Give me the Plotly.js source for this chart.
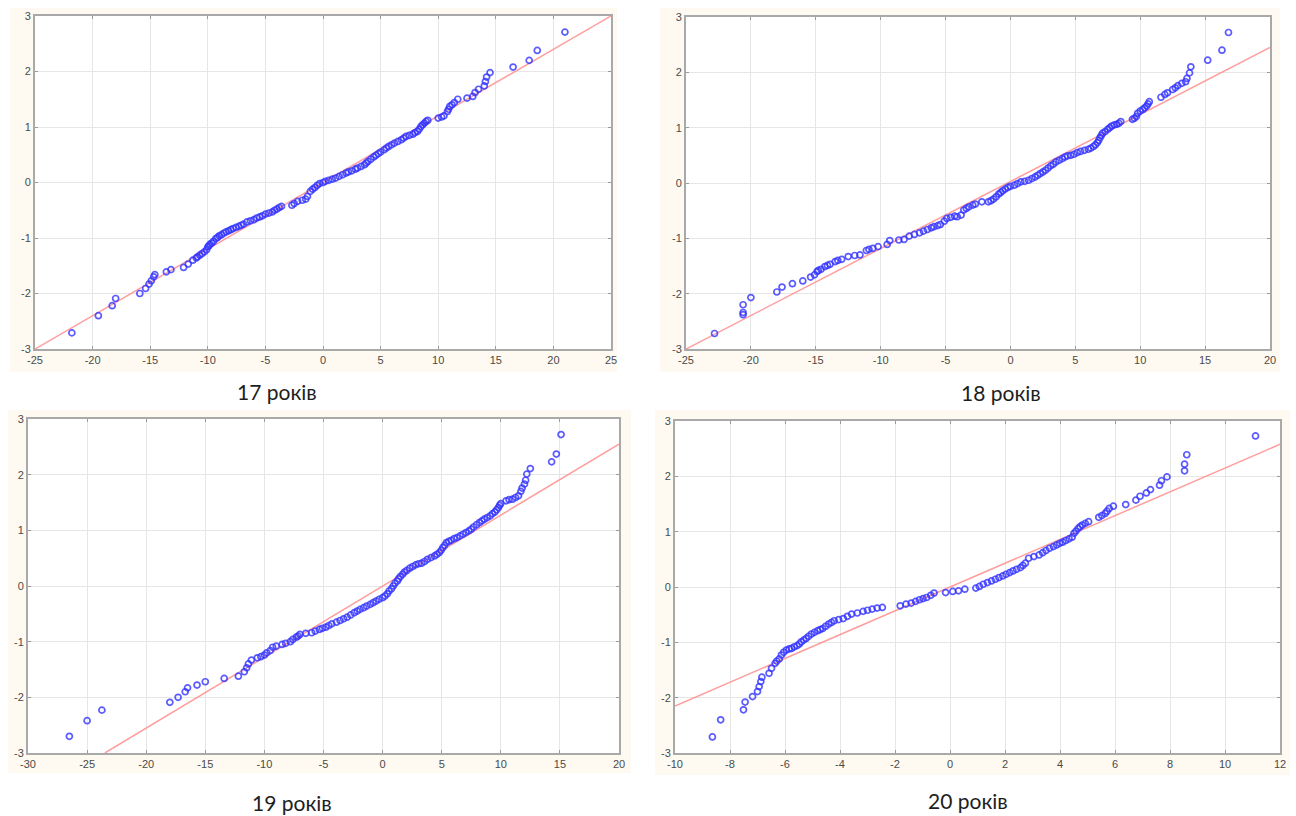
<!DOCTYPE html>
<html>
<head>
<meta charset="utf-8">
<script src="https://cdn.plot.ly/plotly-3.0.1.min.js"></script>
<style>html,body{margin:0;padding:0;background:#fff;}#chart{width:1296px;height:816px;}</style>
</head>
<body>
<div id="chart"></div>
<script>
// ---------- DATA ----------
const captions = ["17 років", "18 років", "19 років", "20 років"];

// 17 years (observed value, expected normal value)
const x17 = [-21.8,-19.5,-18.3,-18.0,-15.9,-15.4,-15.1,-14.9,-14.7,-14.6,-13.6,-13.2,-12.1,-11.7,-11.3,-10.9,-10.5,-10.1,-10.0,-9.8,-9.5,-9.3,-9.0,-8.6,-8.2,-7.8,-7.3,-6.9,-6.6,-6.0,-5.5,-5.0,-4.4,-4.0,-3.6,-2.7,-2.2,-1.5,-1.35,-1.1,-0.7,-0.3,0.2,0.8,1.4,2.0,2.5,3.0,3.6,3.9,4.4,4.8,5.3,5.7,6.2,6.8,7.2,7.8,8.2,8.5,8.8,9.1,10.0,10.5,10.8,11.0,11.4,11.7,12.5,13.0,13.2,13.5,14.0,14.1,14.2,14.5,16.5,17.9,18.6,21.0,
  -11.0,-10.7,-10.3,-9.9,-9.65,-9.15,-8.8,-8.4,-8.0,-7.55,-7.1,-6.3,-5.75,-5.25,-4.7,-4.2,-3.8,-2.5,-1.8,-0.9,-0.5,0.0,0.5,1.1,1.7,2.2,2.8,3.3,3.75,4.15,4.6,5.0,5.5,5.95,6.5,7.0,7.5,8.0,8.35,8.65,8.95,10.3,10.9,11.2];
const y17 = [-2.71,-2.40,-2.22,-2.09,-2.00,-1.91,-1.83,-1.77,-1.70,-1.66,-1.61,-1.57,-1.53,-1.47,-1.40,-1.34,-1.28,-1.21,-1.16,-1.11,-1.06,-1.01,-0.96,-0.91,-0.87,-0.83,-0.79,-0.75,-0.71,-0.67,-0.62,-0.57,-0.53,-0.48,-0.43,-0.41,-0.34,-0.30,-0.25,-0.16,-0.09,-0.02,0.02,0.06,0.11,0.17,0.21,0.26,0.32,0.38,0.46,0.52,0.59,0.65,0.71,0.77,0.83,0.87,0.92,1.01,1.07,1.12,1.16,1.20,1.28,1.37,1.44,1.50,1.52,1.55,1.62,1.68,1.74,1.82,1.90,1.98,2.08,2.20,2.38,2.71,
  -1.36,-1.31,-1.25,-1.14,-1.09,-0.99,-0.94,-0.89,-0.85,-0.81,-0.77,-0.69,-0.64,-0.60,-0.55,-0.50,-0.45,-0.38,-0.32,-0.12,-0.05,0.00,0.04,0.08,0.14,0.19,0.24,0.29,0.35,0.42,0.49,0.55,0.62,0.68,0.74,0.80,0.85,0.90,0.96,1.04,1.10,1.18,1.32,1.40];
const line17x = [-25, 25];
const line17y = [-3, 3];

// 18 years
const x18 = [-22.8,-20.6,-20.6,-20.6,-20.0,-18.0,-17.6,-16.8,-16.0,-15.4,-15.1,-14.9,-14.6,-14.3,-13.9,-13.5,-13.0,-12.5,-11.6,-11.1,-10.6,-10.2,-9.5,-9.3,-8.2,-7.8,-7.0,-6.4,-5.9,-5.4,-5.1,-4.9,-4.1,-3.8,-3.6,-3.2,-2.7,-2.2,-1.7,-1.3,-0.9,-0.6,-0.2,0.3,0.8,1.4,1.9,2.3,2.7,3.1,3.5,4.0,4.4,4.9,5.4,6.0,6.4,6.7,6.9,7.1,7.5,7.8,8.2,8.5,9.4,9.7,9.8,10.2,10.5,10.7,11.6,12.1,12.5,12.9,13.5,13.6,13.8,13.9,15.2,16.3,16.8,
  -4.6,-4.3,-3.4,-2.9,-1.5,-1.1,-0.75,-0.4,0.0,0.55,1.1,1.65,2.1,2.5,2.9,3.3,3.75,4.2,4.65,5.15,5.7,6.2,6.55,6.8,7.0,7.3,7.65,8.0,8.35,9.55,10.0,10.35,10.6,11.9,12.7,13.2,-5.6,-6.1,-6.7,-7.4,-8.6,-10.9,-12.0,-13.3,-14.1,-14.8];
const y18 = [-2.72,-2.38,-2.34,-2.20,-2.07,-1.97,-1.88,-1.82,-1.77,-1.70,-1.66,-1.60,-1.56,-1.51,-1.47,-1.42,-1.38,-1.33,-1.30,-1.22,-1.18,-1.15,-1.11,-1.04,-1.02,-0.96,-0.90,-0.84,-0.79,-0.75,-0.69,-0.64,-0.61,-0.58,-0.49,-0.43,-0.38,-0.34,-0.34,-0.29,-0.20,-0.14,-0.08,-0.04,0.02,0.05,0.11,0.17,0.23,0.31,0.38,0.44,0.49,0.52,0.57,0.61,0.66,0.73,0.82,0.90,0.97,1.03,1.06,1.11,1.15,1.20,1.26,1.33,1.39,1.47,1.55,1.63,1.69,1.76,1.83,1.89,1.99,2.10,2.22,2.40,2.72,
  -0.62,-0.60,-0.46,-0.40,-0.32,-0.25,-0.17,-0.11,-0.06,-0.01,0.03,0.08,0.14,0.20,0.27,0.34,0.41,0.47,0.50,0.55,0.59,0.63,0.69,0.77,0.86,0.93,1.00,1.05,1.08,1.17,1.30,1.36,1.43,1.60,1.72,1.80,-0.77,-0.81,-0.87,-0.93,-1.03,-1.20,-1.31,-1.40,-1.49,-1.58];
const line18x = [-25, 20];
const line18y = [-3, 2.45];

// 19 years
const x19 = [-26.5,-25.0,-23.75,-18.0,-17.3,-16.7,-16.5,-15.7,-15.0,-13.4,-12.2,-11.7,-11.5,-11.35,-11.1,-10.6,-10.0,-9.5,-9.3,-8.5,-7.8,-7.3,-7.0,-6.0,-5.35,-4.8,-4.3,-3.6,-3.0,-2.4,-1.9,-1.35,-0.8,-0.3,0.2,0.55,0.9,1.25,1.5,1.85,2.3,2.8,3.3,3.8,4.4,4.8,5.1,5.4,5.8,6.3,6.8,7.3,7.7,8.2,8.6,9.1,9.5,9.8,10.0,10.45,11.0,11.5,11.7,11.8,12.0,12.1,12.2,12.5,14.3,14.7,15.1,
  -10.3,-9.8,-9.0,-8.2,-7.6,-7.15,-6.5,-5.7,-5.1,-4.55,-3.9,-3.3,-2.7,-2.15,-1.6,-1.05,-0.55,0.0,0.4,0.75,1.05,1.35,1.7,2.05,2.55,3.05,3.55,4.1,4.6,4.95,5.25,5.6,6.05,6.55,7.05,7.5,7.95,8.4,8.85,9.3,9.65,9.9,10.7,11.25];
const y19 = [-2.70,-2.42,-2.23,-2.09,-2.00,-1.90,-1.83,-1.78,-1.72,-1.66,-1.62,-1.54,-1.47,-1.40,-1.33,-1.29,-1.24,-1.16,-1.10,-1.05,-1.00,-0.92,-0.87,-0.84,-0.78,-0.74,-0.68,-0.62,-0.56,-0.48,-0.42,-0.36,-0.30,-0.24,-0.18,-0.09,0.00,0.09,0.17,0.25,0.32,0.38,0.41,0.48,0.54,0.60,0.69,0.78,0.82,0.87,0.93,0.99,1.06,1.14,1.20,1.26,1.33,1.41,1.48,1.53,1.56,1.62,1.70,1.76,1.83,1.90,2.01,2.11,2.23,2.37,2.72,
  -1.27,-1.20,-1.08,-1.03,-0.96,-0.90,-0.85,-0.81,-0.76,-0.71,-0.65,-0.59,-0.52,-0.45,-0.39,-0.33,-0.27,-0.21,-0.14,-0.05,0.05,0.13,0.21,0.28,0.35,0.40,0.44,0.51,0.57,0.64,0.73,0.80,0.85,0.90,0.96,1.02,1.10,1.17,1.23,1.30,1.37,1.45,1.55,1.59];
const line19x = [-23.5, 20];
const line19y = [-3, 2.55];

// 20 years
const x20 = [-8.64,-8.34,-7.51,-7.45,-7.18,-7.0,-6.94,-6.88,-6.84,-6.58,-6.49,-6.36,-6.21,-6.13,-5.95,-5.76,-5.56,-5.41,-5.23,-5.04,-4.81,-4.63,-4.41,-4.21,-3.88,-3.58,-3.16,-2.83,-2.46,-1.81,-1.41,-1.11,-0.85,-0.58,-0.16,0.31,0.54,0.94,1.21,1.51,1.78,2.04,2.29,2.56,2.74,2.86,3.24,3.49,3.76,3.99,4.21,4.44,4.51,4.66,4.81,5.04,5.41,5.64,5.79,5.94,6.39,6.76,6.91,7.14,7.29,7.62,7.69,7.89,8.53,8.53,8.61,11.11,
  -6.3,-6.05,-5.85,-5.66,-5.48,-5.32,-5.14,-4.93,-4.72,-4.52,-4.31,-4.05,-3.73,-3.37,-3.0,-2.65,-1.6,-1.25,-0.98,-0.7,0.1,1.07,1.36,1.65,1.92,2.17,2.42,2.65,3.05,3.37,3.62,3.88,4.1,4.33,4.58,4.73,4.92,5.52,5.71];
const y20 = [-2.71,-2.40,-2.22,-2.08,-1.98,-1.89,-1.80,-1.71,-1.63,-1.56,-1.47,-1.38,-1.30,-1.23,-1.14,-1.11,-1.06,-0.99,-0.93,-0.85,-0.79,-0.75,-0.67,-0.61,-0.57,-0.49,-0.44,-0.40,-0.37,-0.34,-0.29,-0.23,-0.19,-0.11,-0.10,-0.07,-0.04,-0.02,0.05,0.11,0.17,0.23,0.29,0.35,0.43,0.52,0.58,0.66,0.73,0.79,0.84,0.90,0.97,1.06,1.12,1.18,1.26,1.33,1.42,1.46,1.49,1.57,1.64,1.70,1.76,1.84,1.92,1.99,2.10,2.22,2.39,2.73,
  -1.34,-1.18,-1.12,-1.08,-1.03,-0.96,-0.89,-0.82,-0.77,-0.71,-0.64,-0.59,-0.53,-0.47,-0.42,-0.38,-0.31,-0.26,-0.21,-0.15,-0.08,0.01,0.08,0.14,0.20,0.26,0.32,0.39,0.55,0.62,0.70,0.76,0.81,0.87,1.01,1.09,1.15,1.29,1.37];
const line20x = [-10, 12];
const line20y = [-2.15, 2.58];

// tick values
const xTicks17 = [-25,-20,-15,-10,-5,0,5,10,15,20,25];
const xTicks18 = [-25,-20,-15,-10,-5,0,5,10,15,20];
const xTicks19 = [-30,-25,-20,-15,-10,-5,0,5,10,15,20];
const xTicks20 = [-10,-8,-6,-4,-2,0,2,4,6,8,10,12];
const yTicks = [-3,-2,-1,0,1,2,3];

// ---------- LAYOUT HELPERS ----------
const W = 1296, H = 816;
const panels = [
  {px:[35,611],  py:[16,349],  cream:[10,617,8,372],    cap:[277,391], xr:[-25,25], xt:xTicks17},
  {px:[686,1270],py:[17,349],  cream:[660,1280,8,372],  cap:[1001,392], xr:[-25,20], xt:xTicks18},
  {px:[28,619],  py:[419,753], cream:[8,631,410,773],   cap:[292,802], xr:[-30,20], xt:xTicks19},
  {px:[675,1280],py:[421,753], cream:[655,1290,410,775],cap:[968,800], xr:[-10,12], xt:xTicks20}
];
const series = [
  {x:x17,y:y17,lx:line17x,ly:line17y},
  {x:x18,y:y18,lx:line18x,ly:line18y},
  {x:x19,y:y19,lx:line19x,ly:line19y},
  {x:x20,y:y20,lx:line20x,ly:line20y}
];

const tickFont = {family:"Liberation Sans, Arial, sans-serif", size:11, color:"#4a4a4a"};
function axisCommon(){
  return {
    showgrid:true, gridcolor:"#e6e6e6", gridwidth:1,
    zeroline:false, showline:true, linecolor:"#a9a9a9", linewidth:2, mirror:"ticks",
    ticks:"inside", ticklen:3, tickcolor:"#9a9a9a", tickwidth:1,
    tickfont:tickFont, fixedrange:true, tickmode:"array"
  };
}

const data = [];
const layout = {
  width:W, height:H, margin:{l:0,r:0,t:0,b:0},
  paper_bgcolor:"#ffffff", plot_bgcolor:"#ffffff",
  showlegend:false, shapes:[], annotations:[]
};

panels.forEach((p,i)=>{
  const n = i===0 ? "" : String(i+1);
  const s = series[i];
  data.push({
    x:s.lx, y:s.ly, mode:"lines", type:"scatter",
    xaxis:"x"+n, yaxis:"y"+n,
    line:{color:"rgba(255,140,140,0.85)", width:1.5}, hoverinfo:"skip"
  });
  data.push({
    x:s.x, y:s.y, mode:"markers", type:"scatter",
    xaxis:"x"+n, yaxis:"y"+n,
    marker:{symbol:"circle-open", size:6, color:"rgba(50,50,255,0.8)", line:{width:1.7, color:"rgba(50,50,255,0.8)"}}
  });
  const xa = axisCommon();
  Object.assign(xa, {
    domain:[p.px[0]/W, p.px[1]/W], range:p.xr, anchor:"y"+n,
    tickvals:p.xt, ticktext:p.xt.map(v=>String(v))
  });
  const ya = axisCommon();
  Object.assign(ya, {
    domain:[1-p.py[1]/H, 1-p.py[0]/H], range:[-3,3], anchor:"x"+n,
    tickvals:yTicks, ticktext:yTicks.map(v=>String(v))
  });
  layout["xaxis"+n] = xa;
  layout["yaxis"+n] = ya;
  const c = p.cream;
  layout.shapes.push({type:"rect", xref:"paper", yref:"paper", layer:"below",
    x0:c[0]/W, x1:c[1]/W, y0:1-c[3]/H, y1:1-c[2]/H, line:{width:0}, fillcolor:"#fefaf1"});
  layout.shapes.push({type:"rect", xref:"paper", yref:"paper", layer:"below",
    x0:p.px[0]/W, x1:p.px[1]/W, y0:1-p.py[1]/H, y1:1-p.py[0]/H, line:{width:0}, fillcolor:"#ffffff"});
  layout.annotations.push({
    text:captions[i], xref:"paper", yref:"paper",
    x:p.cap[0]/W, y:1-p.cap[1]/H, xanchor:"center", yanchor:"middle",
    showarrow:false, font:{family:"Lato, Open Sans, sans-serif", size:21, color:"#1e1e1e"}
  });
});

Plotly.newPlot("chart", data, layout, {displayModeBar:false, staticPlot:true});
</script>
</body>
</html>
